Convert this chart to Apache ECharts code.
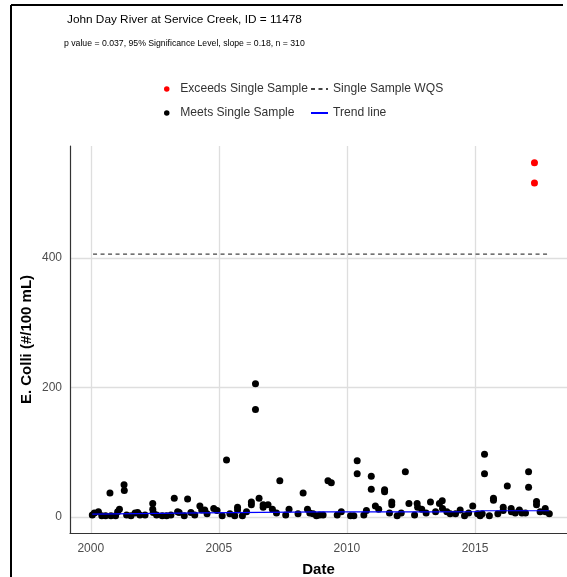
<!DOCTYPE html>
<html>
<head>
<meta charset="utf-8">
<script src="https://cdn.jsdelivr.net/npm/echarts@6/dist/echarts.min.js"></script>
<style>
html,body{margin:0;padding:0;background:#fff;}
#chart{width:567px;height:577px;}
</style>
</head>
<body>
<div id="chart"></div>
<script>
// ---- data ----
const meetsYear = [2000.06,2000.14,2000.3,2000.43,2000.58,2000.75,2000.79,2000.97,2001.05,2001.12,2001.3,2001.31,2001.4,2001.57,2001.73,2001.83,2001.92,2002.12,2002.42,2002.42,2002.44,2002.57,2002.79,2002.96,2003.13,2003.26,2003.39,2003.45,2003.65,2003.78,2003.91,2004.06,2004.26,2004.33,2004.45,2004.54,2004.8,2004.93,2005.13,2005.3,2005.43,2005.62,2005.73,2005.73,2005.92,2006.08,2006.27,2006.27,2006.43,2006.43,2006.57,2006.73,2006.73,2006.92,2007.09,2007.25,2007.38,2007.61,2007.74,2008.09,2008.29,2008.46,2008.55,2008.68,2008.81,2008.94,2009.07,2009.26,2009.39,2009.62,2009.78,2010.14,2010.27,2010.4,2010.4,2010.66,2010.76,2010.95,2010.95,2011.11,2011.24,2011.47,2011.47,2011.66,2011.75,2011.75,2011.96,2012.12,2012.28,2012.42,2012.64,2012.74,2012.76,2012.92,2013.09,2013.26,2013.46,2013.61,2013.72,2013.73,2013.9,2014.03,2014.24,2014.42,2014.59,2014.75,2014.91,2015.1,2015.2,2015.28,2015.37,2015.37,2015.56,2015.72,2015.72,2015.89,2016.1,2016.1,2016.26,2016.41,2016.42,2016.57,2016.73,2016.83,2016.97,2017.09,2017.09,2017.4,2017.4,2017.54,2017.74,2017.75,2017.9];
const meetsValue = [3,6,8,2,2,37,2,2,8,12,50,41,3,2,6,7,3,3,21,12,7,3,2,2,3,29,8,7,2,28,7,3,17,11,11,5,13,10,2,88,5,2,15,11,2,8,23,19,206,166,29,19,15,19,12,6,56,3,12,5,37,12,6,5,2,3,3,56,53,3,8,2,2,87,67,3,10,63,43,17,12,42,39,6,23,19,2,6,70,21,3,21,15,12,6,23,8,21,25,13,8,5,5,11,2,6,17,5,2,5,97,67,2,29,26,5,15,10,48,13,8,6,11,6,6,70,46,24,19,8,13,8,5];
const exceedsYear = [2017.32, 2017.32];
const exceedsValue = [547, 516];
const wqsYear = [2000.09, 2017.82];
const wqsValue = [406, 406];
const trendYear = [2000.06, 2004.3, 2009.0, 2013.5, 2015.0, 2015.3, 2017.9];
const trendValue = [4.5, 6.5, 8.0, 8.0, 8.3, 9.7, 9.7];
const xTicks = [2000, 2005, 2010, 2015];
const yTicks = [0, 200, 400];
const titleText = 'John Day River at Service Creek, ID = 11478';
const subText = 'p value = 0.037, 95% Significance Level, slope = 0.18, n = 310';

const zip = (a, b) => a.map((v, i) => [v, b[i]]);
const FONT = '"Liberation Sans", Arial, sans-serif';

const chart = echarts.init(document.getElementById('chart'), null, {renderer: 'canvas'});
const legendText = {fontFamily: FONT, fontSize: 12.1, color: '#333'};
function lg(name, left, top, hideSymbol) {
  const o = {
    data: [name], left: left, top: top, padding: 0, orient: 'horizontal',
    itemWidth: 17, itemHeight: 5.5, itemGap: 0, textStyle: legendText,
    selectedMode: false
  };
  if (hideSymbol) o.itemStyle = {opacity: 0};
  return o;
}
chart.setOption({
  animation: false,
  backgroundColor: '#fff',
  title: [
    {text: titleText, left: 67, top: 14, padding: 0,
     textStyle: {fontFamily: FONT, fontSize: 11.8, fontWeight: 'normal', color: '#000'}},
    {text: subText, left: 64, top: 39, padding: 0,
     textStyle: {fontFamily: FONT, fontSize: 8.7, fontWeight: 'normal', color: '#000'}}
  ],
  legend: [
    lg('Exceeds Single Sample', 164, 83, false),
    lg('Meets Single Sample', 164, 107, false),
    lg('Single Sample WQS', 310, 83, true),
    lg('Trend line', 310, 107, true)
  ],
  grid: {left: 70, right: 0, top: 146, bottom: 44, containLabel: false, outerBoundsMode: 'none'},
  xAxis: {
    type: 'value', min: 1999.19, max: 2018.59,
    name: 'Date', nameLocation: 'middle', nameGap: 29, nameMoveOverlap: false,
    nameTextStyle: {fontFamily: FONT, fontSize: 15, fontWeight: 'bold', color: '#000'},
    axisLine: {show: true, onZero: false, lineStyle: {color: '#333', width: 1.2}},
    axisTick: {show: false, customValues: xTicks},
    axisLabel: {customValues: xTicks, formatter: v => String(v), fontFamily: FONT, fontSize: 12, color: '#4d4d4d', margin: 10},
    splitLine: {show: true, lineStyle: {color: '#dedede', width: 1.3}}
  },
  yAxis: {
    type: 'value', min: -24.7, max: 573,
    name: 'E. Colli (#/100 mL)', nameLocation: 'middle', nameGap: 36, nameMoveOverlap: false,
    nameTextStyle: {fontFamily: FONT, fontSize: 15, fontWeight: 'bold', color: '#000'},
    axisLine: {show: true, onZero: false, lineStyle: {color: '#333', width: 1.2}},
    axisTick: {show: false, customValues: yTicks},
    axisLabel: {customValues: yTicks, formatter: v => String(v), fontFamily: FONT, fontSize: 12, color: '#4d4d4d', margin: 8},
    splitLine: {show: true, lineStyle: {color: '#dedede', width: 1.3}}
  },
  graphic: [
    {type: 'line', shape: {x1: 11, y1: 5, x2: 11, y2: 577}, style: {stroke: '#000', lineWidth: 2}, z: 100},
    {type: 'line', shape: {x1: 11, y1: 5, x2: 563, y2: 5}, style: {stroke: '#000', lineWidth: 2}, z: 100}
  ],
  series: [
    {name: 'Exceeds Single Sample', type: 'scatter', data: zip(exceedsYear, exceedsValue),
     symbol: 'circle', symbolSize: 7, itemStyle: {color: '#ff0000', opacity: 1}, z: 5},
    {name: 'Meets Single Sample', type: 'scatter', data: zip(meetsYear, meetsValue),
     symbol: 'circle', symbolSize: 7, itemStyle: {color: '#000000', opacity: 1}, z: 4},
    {name: 'Single Sample WQS', type: 'line', data: zip(wqsYear, wqsValue),
     symbol: 'none', lineStyle: {color: '#444', width: 1.2, type: [4, 3.5]}, itemStyle: {color: '#444'}, z: 3},
    {name: 'Trend line', type: 'line', data: zip(trendYear, trendValue),
     symbol: 'none', lineStyle: {color: '#0000ff', width: 1.2}, itemStyle: {color: '#0000ff'}, z: 6}
  ]
});
</script>
</body>
</html>
